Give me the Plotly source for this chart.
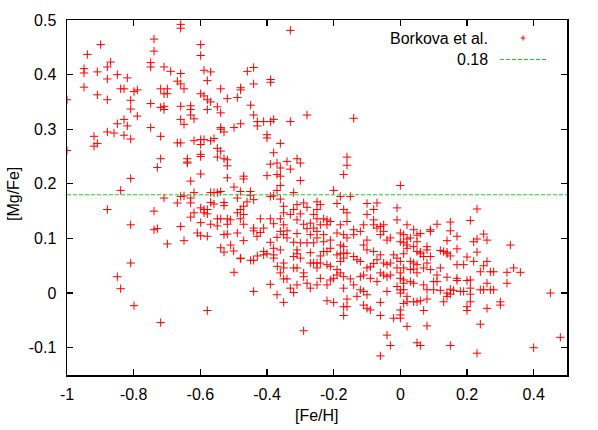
import plotly.graph_objects as go

# [Fe/H], [Mg/Fe] pairs (Borkova et al.)
stars = [
(-0.659,0.492),(-0.659,0.485),(-0.899,0.455),(-0.739,0.465),(-0.939,0.437),(-0.739,0.443),(-0.599,0.455),(-0.599,0.435),
(-0.869,0.423),(-0.879,0.414),(-0.749,0.422),(-0.749,0.414),(-0.949,0.411),(-0.949,0.403),(-0.909,0.405),(-0.709,0.414),
(-0.689,0.406),(-0.659,0.402),(-0.589,0.408),(-0.569,0.405),(-0.879,0.392),(-0.849,0.4),(-0.819,0.394),(-0.579,0.389),
(-0.669,0.388),(-0.659,0.383),(-0.649,0.374),(-0.949,0.377),(-0.839,0.374),(-0.829,0.374),(-0.799,0.369),(-0.789,0.372),
(-0.719,0.374),(-0.699,0.374),(-0.709,0.365),(-0.699,0.365),(-0.539,0.374),(-0.909,0.363),(-1.0,0.354),(-0.879,0.354),
(-0.809,0.353),(-0.599,0.365),(-0.589,0.361),(-0.579,0.354),(-0.569,0.35),(-0.519,0.356),(-0.489,0.358),(-0.749,0.347),
(-0.809,0.337),(-0.719,0.34),(-0.709,0.342),(-0.709,0.336),(-0.659,0.342),(-0.629,0.343),(-0.629,0.336),(-0.619,0.319),
(-0.629,0.326),(-0.579,0.336),(-0.549,0.341),(-0.539,0.33),(-0.789,0.324),(-0.829,0.318),(-0.849,0.31),(-0.819,0.306),
(-0.659,0.318),(-0.649,0.309),(-0.749,0.303),(-0.539,0.303),(-0.499,0.303),
(-0.33,0.481),(-0.459,0.406),(-0.44,0.413),(-0.389,0.391),(-0.389,0.386),(-0.44,0.383),(-0.479,0.376),(-0.479,0.372),
(-0.449,0.344),(-0.44,0.326),(-0.479,0.31),(-0.429,0.314),(-0.429,0.306),(-0.41,0.314),(-0.389,0.314),(-0.38,0.318),
(-0.33,0.314),(-0.28,0.326),(-0.14,0.32),
(-1.0,0.261),(-0.919,0.287),(-0.919,0.269),(-0.909,0.274),(-0.879,0.295),(-0.859,0.293),(-0.829,0.289),(-0.809,0.282),
(-0.719,0.287),(-0.669,0.275),(-0.659,0.275),(-0.619,0.279),(-0.599,0.281),(-0.589,0.281),(-0.599,0.272),(-0.559,0.283),
(-0.569,0.279),(-0.539,0.3),(-0.529,0.295),(-0.549,0.265),(-0.539,0.26),(-0.599,0.254),(-0.599,0.25),(-0.549,0.249),
(-0.529,0.246),(-0.519,0.244),(-0.519,0.233),(-0.639,0.246),(-0.639,0.24),(-0.639,0.238),(-0.719,0.246),(-0.729,0.23),
(-0.599,0.218),(-0.809,0.21),(-0.519,0.211),(-0.629,0.205),(-0.499,0.194),(-0.839,0.188),(-0.619,0.184),(-0.569,0.184),
(-0.559,0.184),(-0.539,0.186),(-0.549,0.184),(-0.709,0.174),(-0.649,0.178),(-0.659,0.177),(-0.629,0.174),(-0.629,0.165),
(-0.669,0.165),(-0.569,0.166),(-0.559,0.163),(-0.529,0.166),(-0.529,0.16),(-0.489,0.174),(-0.599,0.156),(-0.589,0.153),
(-0.579,0.153),(-0.589,0.147),(-0.579,0.145),(-0.619,0.147),(-0.629,0.139),(-0.879,0.153),(-0.739,0.15),(-0.549,0.136),
(-0.539,0.136),(-0.519,0.136),(-0.519,0.126),(-0.489,0.147),(-0.599,0.129),(-0.569,0.126),(-0.549,0.123),(-0.809,0.125),
(-0.659,0.122),(-0.739,0.116),(-0.729,0.118),(-0.609,0.11),(-0.599,0.105),(-0.579,0.104),(-0.529,0.107),(-0.519,0.108),
(-0.489,0.11),(-0.649,0.096),(-0.699,0.09),(-0.539,0.083),(-0.529,0.075),(-0.509,0.088),
(-0.809,0.055),(-0.849,0.03),(-0.839,0.008),(-0.799,-0.023),(-0.719,-0.054),(-0.579,-0.032),(-0.499,0.038),(-0.48,0.063),
(-0.4,0.29),(-0.4,0.284),(-0.36,0.274),(-0.38,0.257),(-0.39,0.236),(-0.37,0.238),(-0.36,0.229),(-0.34,0.241),
(-0.33,0.227),(-0.31,0.246),(-0.3,0.238),(-0.4,0.215),(-0.37,0.217),(-0.36,0.214),(-0.3,0.206),(-0.36,0.197),
(-0.47,0.214),(-0.47,0.209),(-0.16,0.249),(-0.16,0.234),(-0.17,0.217),(-0.2,0.188),(0.0,0.197),(-0.32,0.184),
(-0.48,0.186),(-0.45,0.186),(-0.45,0.179),(-0.44,0.171),(-0.46,0.167),(-0.47,0.159),(-0.48,0.153),(-0.47,0.144),
(-0.51,0.134),(-0.48,0.136),(-0.47,0.126),(-0.47,0.096),(-0.5,0.077),(-0.42,0.136),(-0.41,0.119),(-0.44,0.114),
(-0.42,0.111),(-0.43,0.104),(-0.44,0.119),
(-0.39,0.177),(-0.38,0.178),(-0.37,0.188),(-0.36,0.172),(-0.35,0.159),(-0.35,0.147),(-0.36,0.136),(-0.39,0.136),
(-0.38,0.127),(-0.35,0.125),(-0.34,0.114),(-0.36,0.113),(-0.37,0.102),(-0.35,0.107),(-0.34,0.101),(-0.39,0.093),
(-0.38,0.082),(-0.36,0.079),(-0.33,0.144),(-0.32,0.153),(-0.31,0.162),(-0.29,0.165),(-0.28,0.157),(-0.3,0.145),
(-0.31,0.134),(-0.29,0.126),(-0.28,0.118),(-0.31,0.109),(-0.32,0.093),(-0.3,0.092),(-0.31,0.079),
(-0.25,0.167),(-0.24,0.162),(-0.25,0.153),(-0.26,0.144),(-0.25,0.136),(-0.23,0.136),(-0.22,0.134),(-0.21,0.131),
(-0.22,0.125),(-0.24,0.125),(-0.26,0.119),(-0.27,0.128),(-0.25,0.113),(-0.23,0.107),(-0.25,0.101),(-0.26,0.092),
(-0.23,0.094),(-0.21,0.097),(-0.27,0.107),(-0.28,0.092),(-0.21,0.082),(-0.23,0.076),
(-0.19,0.164),(-0.18,0.177),(-0.17,0.153),(-0.16,0.147),(-0.16,0.131),(-0.18,0.125),(-0.19,0.11),(-0.17,0.107),
(-0.16,0.101),(-0.18,0.088),(-0.17,0.085),(-0.16,0.073),
(-0.15,0.177),(-0.14,0.116),(-0.14,0.107),(-0.12,0.113),(-0.11,0.125),(-0.1,0.164),(-0.1,0.144),(-0.08,0.153),
(-0.08,0.134),(-0.08,0.125),(-0.07,0.119),(-0.06,0.122),(-0.05,0.125),(-0.04,0.097),(-0.05,0.113),(-0.06,0.107),
(-0.03,0.101),(-0.1,0.097),(-0.11,0.088),(-0.1,0.079),(-0.08,0.076),
(-0.07,0.165),(-0.01,0.156),(-0.01,0.134),(0.0,0.11),(0.01,0.107),(0.02,0.099),(0.01,0.092),(0.02,0.082),
(0.23,0.154),(0.21,0.133),(0.15,0.13),(0.11,0.126),(0.15,0.114),(0.09,0.116),(0.09,0.113),(0.04,0.116),
(0.02,0.125),(0.06,0.109),(0.05,0.106),(0.03,0.101),(0.05,0.094),(0.0,0.094),(0.02,0.088),(0.04,0.085),
(0.08,0.085),(0.08,0.079),(0.14,0.096),(0.17,0.104),(0.17,0.081),(0.12,0.078),(0.13,0.076),(0.14,0.075),
(0.22,0.094),(0.23,0.099),(0.25,0.108),(0.26,0.097),(0.23,0.075),(0.33,0.088),(0.06,0.075),
(-0.479,0.064),(-0.449,0.06),(-0.44,0.06),(-0.429,0.068),(-0.41,0.076),(-0.41,0.07),(-0.4,0.072),(-0.38,0.07),
(-0.38,0.064),(-0.369,0.049),(-0.35,0.055),(-0.35,0.046),(-0.36,0.037),(-0.35,0.026),(-0.34,0.026),(-0.32,0.067),
(-0.31,0.072),(-0.3,0.064),(-0.32,0.046),(-0.31,0.046),(-0.29,0.037),(-0.29,0.03),(-0.31,0.015),(-0.33,0.009),
(-0.32,0.001),(-0.35,-0.017),(-0.37,-0.003),(-0.39,0.016),(-0.44,0.003),
(-0.27,0.074),(-0.27,0.055),(-0.28,0.018),(-0.27,0.009),(-0.25,0.015),(-0.25,0.046),(-0.24,0.068),(-0.24,0.027),
(-0.29,-0.069),(-0.26,0.055),(-0.25,0.055),(-0.24,0.055),
(-0.22,0.076),(-0.22,0.052),(-0.21,0.049),(-0.22,0.015),(-0.21,0.024),(-0.2,0.027),(-0.22,-0.014),(-0.2,-0.017),
(-0.19,0.07),(-0.18,0.072),(-0.17,0.073),(-0.17,0.064),(-0.18,0.058),(-0.19,0.043),(-0.18,0.037),(-0.17,0.03),
(-0.19,0.033),(-0.17,0.009),(-0.16,-0.011),(-0.17,-0.025),(-0.16,-0.025),(-0.17,-0.041),
(-0.14,0.067),(-0.13,0.061),(-0.12,0.058),(-0.15,0.026),(-0.14,0.015),(-0.12,0.03),(-0.12,0.006),(-0.11,0.003),
(-0.1,-0.003),(-0.13,-0.006),(-0.11,-0.022),(-0.1,-0.028),(-0.09,-0.031),(-0.11,0.033),(-0.1,0.046),(-0.09,0.048),
(-0.08,0.054),(-0.09,0.027),(-0.07,0.061),(-0.06,0.07),(-0.07,0.021),
(-0.05,0.055),(-0.04,0.052),(-0.03,0.055),(-0.06,0.037),(-0.05,0.033),(-0.04,0.03),(-0.03,0.033),(-0.04,0.003),
(-0.06,-0.017),(-0.06,-0.041),(-0.04,-0.077),(-0.03,-0.096),(-0.06,-0.115),
(-0.02,0.07),(-0.01,0.064),(0.0,0.058),(-0.01,0.046),(0.01,0.046),(0.0,0.037),(0.01,0.024),(-0.01,0.012),
(0.0,0.006),(0.0,0.0),(0.02,-0.006),(0.01,-0.019),(0.0,-0.031),(-0.02,-0.046),(0.0,-0.046),(0.02,-0.061),
(0.01,0.072),(0.05,0.076),(0.06,0.072),(0.07,0.067),(0.09,0.067),(0.14,0.072),(0.15,0.068),(0.2,0.066),
(0.22,0.058),(0.19,0.052),(0.17,0.052),(0.26,0.058),(0.25,0.05),(0.24,0.039),(0.28,0.039),(0.27,0.039),
(0.32,0.038),(0.34,0.046),(0.36,0.038),
(0.03,0.058),(0.04,0.055),(0.05,0.052),(0.03,0.043),(0.04,0.044),(0.05,0.037),(0.07,0.046),(0.09,0.043),
(0.12,0.046),(0.08,0.055),(0.11,0.033),(0.1,0.021),(0.11,0.021),(0.14,0.029),(0.17,0.027),(0.17,0.023),
(0.2,0.023),(0.21,0.024),
(0.0,0.027),(0.01,0.018),(0.03,0.021),(0.04,0.018),(0.07,0.015),(0.01,0.006),(0.08,0.006),(0.1,0.006),
(0.12,0.005),(0.14,0.0),(0.15,0.007),(0.16,0.005),(0.15,-0.002),(0.18,0.003),(0.19,0.003),(0.21,0.009),
(0.21,-0.002),(0.24,0.006),(0.25,0.006),(0.27,0.006),(0.28,0.006),(0.26,0.018),(0.32,0.018),(0.14,-0.006),
(0.13,-0.016),(0.21,-0.016),(0.2,-0.025),(0.2,-0.032),(0.26,-0.028),(0.3,-0.016),(0.3,-0.022),(0.02,-0.016),
(0.04,-0.016),(0.05,-0.016),(0.06,-0.014),(0.08,-0.011),(0.07,-0.032),(0.0,-0.04),
(0.08,-0.06),(0.24,-0.057),(0.05,-0.091),(0.06,-0.096),(0.15,-0.096),(0.23,-0.11),(0.4,-0.1),(0.45,0.0),(0.48,-0.081),
]
feh = [p[0] for p in stars]
mgfe = [p[1] for p in stars]

threshold = 0.18
x_range = [-1.0, 0.5]
y_range = [-0.15, 0.5]
x_ticks = [-1.0, -0.8, -0.6, -0.4, -0.2, 0.0, 0.2, 0.4]
x_tick_labels = ["-1", "-0.8", "-0.6", "-0.4", "-0.2", "0", "0.2", "0.4"]
y_ticks = [-0.1, 0.0, 0.1, 0.2, 0.3, 0.4, 0.5]
y_tick_labels = ["-0.1", "0", "0.1", "0.2", "0.3", "0.4", "0.5"]

FONT = "Liberation Sans, Arial, sans-serif"
FS = 16
RED = "#ff0000"
GREEN = "#22cc22"

fig = go.Figure()
fig.add_trace(go.Scatter(
    x=feh, y=mgfe, mode="markers", name="Borkova et al.",
    marker=dict(symbol="cross-thin", size=6, color=RED, line=dict(color=RED, width=1)),
    showlegend=False, hoverinfo="skip",
))
fig.add_trace(go.Scatter(
    x=x_range, y=[threshold, threshold], mode="lines", name="0.18",
    line=dict(color=GREEN, width=1, dash="4px,2px"), showlegend=False, hoverinfo="skip",
))

axis_common = dict(
    showline=True, linecolor="black", linewidth=1.5, mirror="ticks",
    ticks="inside", ticklen=6, tickwidth=1.2, tickcolor="black",
    showgrid=False, zeroline=False, automargin=False,
    tickfont=dict(family=FONT, size=FS, color="black"),
)
fig.update_xaxes(range=x_range, tickvals=x_ticks, ticktext=x_tick_labels,
                 ticklabelstandoff=4, **axis_common)
fig.update_yaxes(range=y_range, tickvals=y_ticks, ticktext=y_tick_labels,
                 ticklabelstandoff=6, **axis_common)

L, R, T, B = 67, 31, 20, 55
W, H = 598, 430
pw, ph = W - L - R, H - T - B

def px(xp):
    return (xp - L) / pw

def py(yp):
    return 1 - (yp - T) / ph

annotations = [
    dict(text="[Fe/H]", xref="paper", yref="paper", x=0.5, y=py(415), showarrow=False,
         xanchor="center", yanchor="middle", font=dict(family=FONT, size=FS, color="black")),
    dict(text="[Mg/Fe]", xref="paper", yref="paper", x=px(13), y=py(194), showarrow=False, textangle=-90,
         xanchor="center", yanchor="middle", font=dict(family=FONT, size=FS, color="black")),
    dict(text="Borkova et al.", xref="paper", yref="paper", x=px(490), y=py(38), showarrow=False,
         xanchor="right", yanchor="middle", font=dict(family=FONT, size=FS, color="black")),
    dict(text="0.18", xref="paper", yref="paper", x=px(490), y=py(59.5), showarrow=False,
         xanchor="right", yanchor="middle", font=dict(family=FONT, size=FS, color="black")),
]
shapes = [
    dict(type="line", xref="paper", yref="paper", x0=px(520.5), x1=px(525.5), y0=py(38), y1=py(38),
         line=dict(color=RED, width=1)),
    dict(type="line", xref="paper", yref="paper", x0=px(523), x1=px(523), y0=py(35.5), y1=py(40.5),
         line=dict(color=RED, width=1)),
    dict(type="line", xref="paper", yref="paper", x0=px(500), x1=px(547), y0=py(59.5), y1=py(59.5),
         line=dict(color=GREEN, width=1, dash="4px,2px")),
]

fig.update_layout(
    width=W, height=H,
    margin=dict(l=L, r=R, t=T, b=B, pad=0),
    paper_bgcolor="white", plot_bgcolor="white",
    font=dict(family=FONT, size=FS, color="black"),
    annotations=annotations, shapes=shapes,
    showlegend=False, hovermode=False,
)
fig.write_html("out.html", config={"displayModeBar": False, "staticPlot": True},
               post_script="document.body.style.margin='0';document.body.style.padding='0';")
